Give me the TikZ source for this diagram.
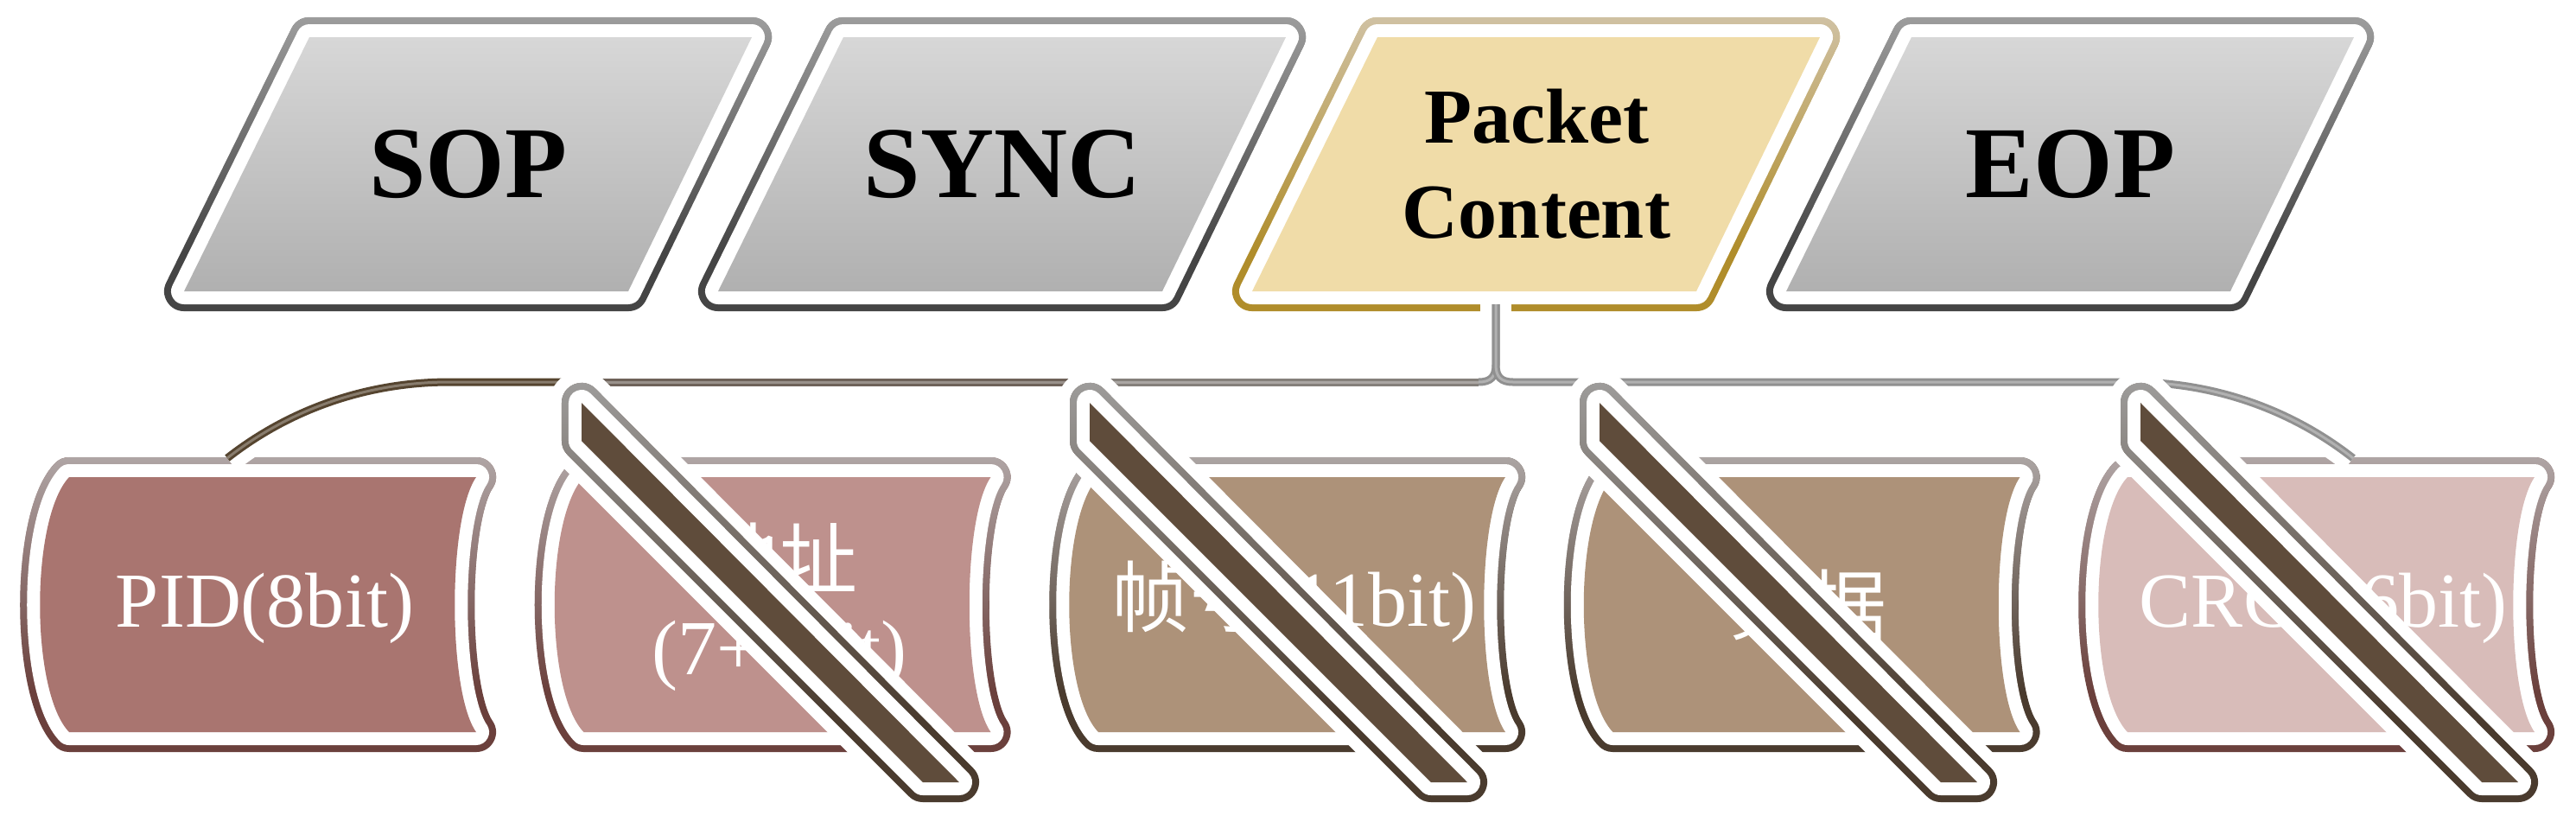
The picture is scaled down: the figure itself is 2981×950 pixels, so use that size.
\documentclass[tikz,border=0pt]{standalone}
\usepackage{fontspec}
\setmainfont{Liberation Serif}
\newfontfamily\cjk{Noto Sans CJK SC}
\usetikzlibrary{fadings}

\definecolor{graytop}{HTML}{D7D7D7}
\definecolor{graybot}{HTML}{B0B0B0}
\definecolor{grayline}{HTML}{454545}
\definecolor{graylight}{HTML}{A8A8A8}
\definecolor{packfill}{HTML}{F0DCA8}
\definecolor{packline}{HTML}{B08D2B}
\definecolor{packlight}{HTML}{D4C8B2}
\definecolor{pidfill}{HTML}{A97570}
\definecolor{addrfill}{HTML}{BE918D}
\definecolor{framefill}{HTML}{AD9279}
\definecolor{crcfill}{HTML}{D8BCB9}
\definecolor{redline}{HTML}{6B403C}
\definecolor{brownline}{HTML}{4A3B2E}
\definecolor{boxlight}{HTML}{B8B2B2}
\definecolor{slashfill}{HTML}{5F4C3B}
\definecolor{busA}{HTML}{55442F}
\definecolor{busB}{HTML}{6E6259}
\definecolor{busC}{HTML}{85807B}
\definecolor{busD}{HTML}{909090}

\newcommand\topfont{\fontsize{33.5}{38}\selectfont\bfseries}
\newcommand\packfont{\fontsize{25.6}{31.3}\selectfont\bfseries}
\newcommand\botfont{\fontsize{25.6}{28.5}\selectfont}

% light rim at the top, fading out downwards
\pgfdeclareverticalshading{lighttop}{100bp}{color(0bp)=(pgftransparent); color(35bp)=(pgftransparent); color(80bp)=(pgftransparent!0); color(100bp)=(pgftransparent!0)}
\pgfdeclarefading{lighttop}{\pgfuseshading{lighttop}}

\begin{document}
\begin{tikzpicture}[x=0.01cm, y=-0.01cm,
  rim/.style={line width=0.46cm, line join=round},
  band/.style={draw=white, line width=0.30cm, line join=round},
  veil/.style={draw=white, line width=0.74cm, line join=round},
  casing/.style={draw=white, line width=0.36cm},
  bus/.style={draw=#1, line width=0.03cm, double=#1!70!white, double distance=0.03cm},
  toplabel/.style={text=black, align=center},
  botlabel/.style={text=white, align=center, font=\botfont}]

\useasboundingbox (0,0) rectangle (2981,950);

% top row
\foreach \i/\nm/\txt/\fa/\fb/\ld/\ll/\fs in {0/sop/SOP/graytop/graybot/grayline/graylight/\topfont,
    1/sync/SYNC/graytop/graybot/grayline/graylight/\topfont,
    2/pack/Packet\\Content/packfill/packfill/packline/packlight/\packfont,
    3/eop/EOP/graytop/graybot/grayline/graylight/\topfont}{
  \pgfmathsetmacro\xo{618*\i}
  \def\topshape{({358+\xo},43) -- ({870+\xo},43) -- ({727+\xo},337) -- ({213+\xo},337) -- cycle}
  \draw[rim, draw=\ld] \topshape;
  \draw[rim, draw=\ll, path fading=lighttop] \topshape;
  \draw[band] \topshape;
  \shade[top color=\fa, bottom color=\fb] \topshape;
  \node[toplabel, font=\fs] (\nm) at ({542+\xo},190) {\txt};
}

% bottom row
\foreach \k/\nm/\fc/\ld/\ty/\txt in {0/pid/pidfill/redline/704/{PID(8bit)},
    1/addr/addrfill/redline/702/{{\cjk 地址}\\(7+4bit)},
    2/frame/framefill/brownline/696/{{\cjk 帧号}(11bit)},
    3/data/framefill/brownline/700/{\cjk 数据},
    4/crc/crcfill/redline/704/{CRC(16bit)}}{
  \pgfmathsetmacro\xl{80+595.5*\k}
  \pgfmathsetmacro\xr{\xl+471}
  \def\botshape{(\xl,552) -- (\xr,552) .. controls ({\xr-33},600) and ({\xr-33},800) .. (\xr,847)
    -- (\xl,847) .. controls ({\xl-45},800) and ({\xl-45},600) .. (\xl,552) -- cycle}
  \draw[rim, draw=\ld] \botshape;
  \draw[rim, draw=boxlight, path fading=lighttop] \botshape;
  \draw[band] \botshape;
  \fill[\fc] \botshape;
  \node[botlabel] (\nm) at ({\xl+226.5},\ty) {\txt};
}

% connectors
\coordinate (pack-foot) at (1731,352);
\coordinate (pid-top) at (263,530);
\coordinate (crc-top) at (2723,530);

\draw[casing] (pid-top) .. controls (337,472) and (427,442) .. (520,442) -- (2466,442)
  .. controls (2559,442) and (2649,472) .. (crc-top);
\draw[casing] (pack-foot) -- (1731,442);

\draw[bus=busA] (pid-top) .. controls (337,472) and (427,442) .. (520,442) -- (673,442);
\draw[bus=busB] (673,442) -- (1261,442);
\draw[bus=busC] (1261,442) -- (1711,442);
\draw[bus=busD] (1711,442) .. controls (1725,442) and (1731,436) .. (1731,422) -- (pack-foot);
\draw[bus=busD] (pack-foot) -- (1731,422) .. controls (1731,436) and (1737,442) .. (1751,442)
  -- (2466,442) .. controls (2559,442) and (2649,472) .. (crc-top);

% slashes
\foreach \sx in {673,1261,1851,2477}{
  \def\barshape{(\sx,466) -- ({\sx+437},905) -- ({\sx+395},905) -- (\sx,510) -- cycle}
  \draw[veil] \barshape;
  \draw[rim, draw=brownline] \barshape;
  \draw[rim, draw=graylight, path fading=lighttop] \barshape;
  \draw[band] \barshape;
  \fill[slashfill] \barshape;
}
\end{tikzpicture}
\end{document}
